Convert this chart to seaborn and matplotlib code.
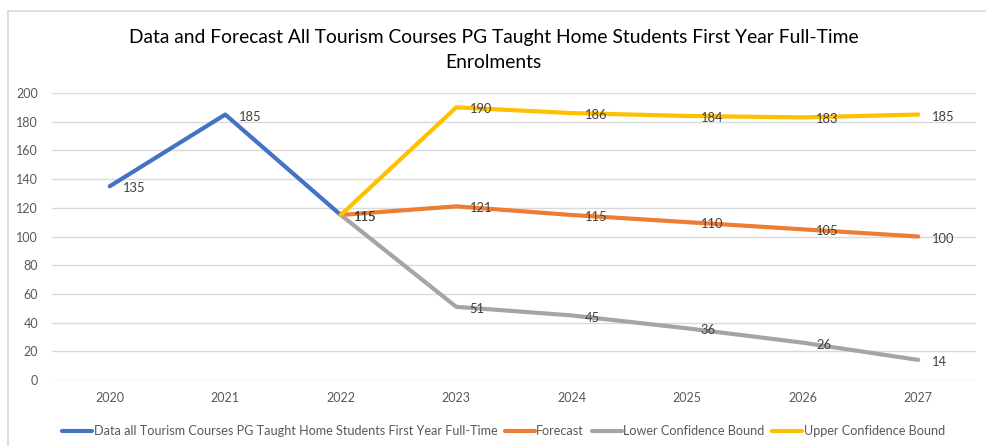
import matplotlib
matplotlib.use("Agg")
import matplotlib.pyplot as plt
import seaborn as sns
import pandas as pd
from matplotlib.lines import Line2D
from matplotlib.patches import Rectangle

years = [2020, 2021, 2022, 2023, 2024, 2025, 2026, 2027]
actual_years = [2020, 2021, 2022]
actual_values = [135, 185, 115]
forecast_years = [2022, 2023, 2024, 2025, 2026, 2027]
forecast_values = [115, 121, 115, 110, 105, 100]
lower_values = [115, 51, 45, 36, 26, 14]
upper_values = [115, 190, 186, 184, 183, 185]
y_ticks = [0, 20, 40, 60, 80, 100, 120, 140, 160, 180, 200]

series_names = [
    "Data all Tourism Courses PG Taught Home Students First Year Full-Time",
    "Forecast",
    "Lower Confidence Bound",
    "Upper Confidence Bound",
]
colors = ["#4472C4", "#ED7D31", "#A5A5A5", "#FFC000"]
title = "Data and Forecast All Tourism Courses PG Taught Home Students First Year Full-Time\nEnrolments"

sns.set_theme(style="white")
plt.rcParams["font.family"] = ["Lato", "DejaVu Sans"]

fig = plt.figure(figsize=(9.87, 4.46), dpi=100)
ax = fig.add_axes([52 / 987, 1 - 380 / 446, (976 - 52) / 987, (380 - 93) / 446])

frames = [
    pd.DataFrame({"year": actual_years, "value": actual_values, "series": series_names[0]}),
    pd.DataFrame({"year": forecast_years, "value": forecast_values, "series": series_names[1]}),
    pd.DataFrame({"year": forecast_years, "value": lower_values, "series": series_names[2]}),
    pd.DataFrame({"year": forecast_years, "value": upper_values, "series": series_names[3]}),
]
for i, df in enumerate(frames):
    sns.lineplot(data=df, x="year", y="value", color=colors[i], linewidth=3.0,
                 ax=ax, legend=False, solid_capstyle="round", solid_joinstyle="round",
                 zorder=3 + i)

# data labels
label_sets = [
    (actual_years, actual_values),
    (forecast_years[0:1], forecast_values[0:1]),
    (forecast_years[1:], forecast_values[1:]),
    (forecast_years[1:], lower_values[1:]),
    (forecast_years[1:], upper_values[1:]),
]
for xs, vs in label_sets:
    for x, v in zip(xs, vs):
        ax.annotate(str(v), (x, v), xytext=(9.5, -1.5), textcoords="offset points",
                    ha="left", va="center", fontsize=9.3, color="#404040", zorder=10)

ax.set_xlim(2019.5, 2027.5)
ax.set_ylim(0, 200)
ax.set_xticks(years)
ax.set_xticklabels([str(y) for y in years])
ax.set_yticks(y_ticks)
ax.tick_params(axis="both", length=0, labelsize=9, labelcolor="#595959")
ax.tick_params(axis="y", pad=10)
ax.tick_params(axis="x", pad=9)
ax.grid(axis="y", color="#D9D9D9", linewidth=1.0)
ax.grid(axis="x", visible=False)
for s in ax.spines.values():
    s.set_visible(False)
ax.set_xlabel("")
ax.set_ylabel("")

fig.text(0.5, 1 - 50 / 446, title, ha="center", va="center", fontsize=13.9,
         color="#000000", linespacing=1.55)

handles = [Line2D([0], [0], color=c, linewidth=3.0, solid_capstyle="round") for c in colors]
leg = fig.legend(handles, series_names, loc="center", bbox_to_anchor=(0.51, 1 - 431 / 446),
                 ncol=4, frameon=False, fontsize=9.1, handlelength=2.4, handletextpad=0.1,
                 columnspacing=0.6, labelcolor="#595959", borderaxespad=0)

fig.patches.append(Rectangle((8 / 987, -0.05), 1.1, 1 - 11 / 446 + 0.05, transform=fig.transFigure,
                             fill=False, edgecolor="#D9D9D9", linewidth=1.2, zorder=0))

fig.savefig("out.png", dpi=100, facecolor="white")
